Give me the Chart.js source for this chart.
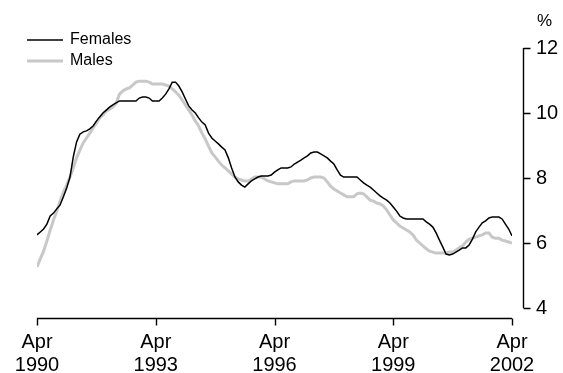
<!DOCTYPE html>
<html>
<head>
<meta charset="utf-8">
<script src="https://cdn.jsdelivr.net/npm/chart.js@4/dist/chart.umd.min.js"></script>
<style>
  html, body { margin: 0; padding: 0; background: #fff; }
  #wrap { width: 563px; height: 373px; }
</style>
</head>
<body>
<div id="wrap"><canvas id="c" width="563" height="373"></canvas></div>
<script>
// Monthly data, Apr 1990 .. Apr 2002 (145 months), unemployment rate %
const females = [
  6.25, 6.34, 6.43, 6.58, 6.83, 6.92, 7.05, 7.17, 7.42, 7.69,
  8.03, 8.65, 9.11, 9.35, 9.42, 9.45, 9.51, 9.60, 9.75, 9.88,
  10.00, 10.09, 10.18, 10.25, 10.31, 10.37, 10.37, 10.37, 10.37, 10.37,
  10.37, 10.46, 10.49, 10.49, 10.46, 10.37, 10.37, 10.37, 10.46, 10.58,
  10.74, 10.95, 10.95, 10.83, 10.65, 10.43, 10.22, 10.09, 10.00, 9.85,
  9.72, 9.63, 9.38, 9.23, 9.14, 9.05, 8.95, 8.86, 8.62, 8.31,
  8.03, 7.88, 7.78, 7.72, 7.82, 7.91, 7.97, 8.03, 8.06, 8.06,
  8.06, 8.09, 8.18, 8.25, 8.31, 8.31, 8.31, 8.34, 8.43, 8.49,
  8.55, 8.62, 8.68, 8.77, 8.80, 8.80, 8.74, 8.68, 8.62, 8.52,
  8.43, 8.25, 8.09, 8.03, 8.03, 8.03, 8.03, 8.03, 7.94, 7.85,
  7.78, 7.72, 7.63, 7.54, 7.45, 7.38, 7.32, 7.23, 7.11, 6.98,
  6.83, 6.77, 6.74, 6.74, 6.74, 6.74, 6.74, 6.74, 6.65, 6.58,
  6.49, 6.31, 6.09, 5.88, 5.66, 5.63, 5.66, 5.72, 5.78, 5.85,
  5.85, 5.94, 6.12, 6.34, 6.49, 6.62, 6.68, 6.77, 6.80, 6.80,
  6.80, 6.74, 6.58, 6.43, 6.22
];
const males = [
  5.26, 5.51, 5.75, 6.06, 6.40, 6.71, 6.98, 7.29, 7.57, 7.78,
  8.03, 8.31, 8.62, 8.86, 9.08, 9.23, 9.38, 9.54, 9.69, 9.85,
  9.94, 10.06, 10.12, 10.18, 10.31, 10.58, 10.68, 10.74, 10.77, 10.86,
  10.95, 10.98, 10.98, 10.98, 10.95, 10.89, 10.89, 10.89, 10.89, 10.86,
  10.83, 10.74, 10.65, 10.55, 10.40, 10.25, 10.09, 9.94, 9.75, 9.60,
  9.38, 9.20, 8.98, 8.77, 8.65, 8.52, 8.40, 8.31, 8.22, 8.12,
  8.03, 7.97, 7.94, 7.91, 7.91, 7.97, 8.03, 8.03, 8.03, 7.97,
  7.91, 7.88, 7.85, 7.82, 7.82, 7.82, 7.82, 7.88, 7.91, 7.91,
  7.91, 7.91, 7.94, 8.00, 8.03, 8.03, 8.03, 8.00, 7.88, 7.75,
  7.66, 7.60, 7.54, 7.48, 7.42, 7.42, 7.42, 7.51, 7.54, 7.51,
  7.42, 7.32, 7.29, 7.23, 7.20, 7.14, 7.02, 6.86, 6.71, 6.62,
  6.52, 6.46, 6.40, 6.34, 6.25, 6.09, 6.00, 5.91, 5.82, 5.75,
  5.72, 5.69, 5.69, 5.69, 5.69, 5.72, 5.72, 5.78, 5.85, 5.91,
  6.03, 6.12, 6.15, 6.18, 6.22, 6.25, 6.31, 6.31, 6.18, 6.15,
  6.15, 6.09, 6.06, 6.03, 6.00
];
const xTickLabels = [['Apr', '1990'], ['Apr', '1993'], ['Apr', '1996'], ['Apr', '1999'], ['Apr', '2002']];
const yTickValues = [4, 6, 8, 10, 12];
const seriesNames = ['Females', 'Males'];
const unitLabel = '%';

const FONT = '"Liberation Sans", Arial, sans-serif';

const axesPlugin = {
  id: 'customAxes',
  afterDraw(chart) {
    const ctx = chart.ctx;
    const xs = chart.scales.x, ys = chart.scales.y;
    ctx.save();
    ctx.strokeStyle = '#000';
    ctx.lineWidth = 1.4;
    // x axis line, offset below plot
    const xAxisY = chart.chartArea.bottom + 10.5;
    ctx.beginPath();
    ctx.moveTo(xs.getPixelForValue(xs.min), xAxisY);
    ctx.lineTo(xs.getPixelForValue(xs.max), xAxisY);
    xs.ticks.forEach(t => {
      const px = Math.round(xs.getPixelForValue(t.value)) + 0.5;
      ctx.moveTo(px, xAxisY);
      ctx.lineTo(px, xAxisY + 7);
    });
    ctx.stroke();
    // y axis line, offset right of plot
    const yAxisX = chart.chartArea.right + 11.5;
    ctx.beginPath();
    ctx.moveTo(yAxisX, ys.getPixelForValue(ys.max));
    ctx.lineTo(yAxisX, ys.getPixelForValue(ys.min));
    ys.ticks.forEach(t => {
      const py = Math.round(ys.getPixelForValue(t.value)) + 0.5;
      ctx.moveTo(yAxisX, py);
      ctx.lineTo(yAxisX + 7, py);
    });
    ctx.stroke();
    // unit label
    ctx.fillStyle = '#000';
    ctx.font = '17px ' + FONT;
    ctx.textAlign = 'center';
    ctx.textBaseline = 'middle';
    ctx.fillText(unitLabel, yAxisX + 21, ys.getPixelForValue(ys.max) - 27);
    // legend
    const lx = chart.chartArea.left - 10, ly = 40, gap = 21;
    chart.data.datasets.forEach((ds, i) => {
      const yy = ly + i * gap;
      ctx.strokeStyle = ds.borderColor;
      ctx.lineWidth = ds.borderWidth;
      ctx.beginPath();
      ctx.moveTo(lx, yy);
      ctx.lineTo(lx + 36, yy);
      ctx.stroke();
      ctx.fillStyle = '#000';
      ctx.font = '16px ' + FONT;
      ctx.textAlign = 'left';
      ctx.fillText(ds.label, lx + 43, yy);
    });
    ctx.restore();
  }
};

new Chart(document.getElementById('c'), {
  type: 'line',
  data: {
    datasets: [
      {
        label: seriesNames[0],
        data: females.map((v, i) => ({ x: i, y: v })),
        borderColor: '#000000',
        borderWidth: 1.5,
        pointRadius: 0,
        tension: 0,
        fill: false
      },
      {
        label: seriesNames[1],
        data: males.map((v, i) => ({ x: i, y: v })),
        borderColor: '#c8c8c8',
        borderWidth: 3,
        pointRadius: 0,
        tension: 0,
        fill: false
      }
    ]
  },
  options: {
    responsive: false,
    animation: false,
    devicePixelRatio: 1,
    layout: { padding: { left: 37, top: 48, right: 0, bottom: 0 } },
    plugins: {
      legend: { display: false },
      tooltip: { enabled: false }
    },
    scales: {
      x: {
        type: 'linear',
        position: 'bottom',
        min: 0,
        max: females.length - 1,
        grid: { display: false, drawTicks: false },
        border: { display: false },
        afterBuildTicks(scale) {
          scale.ticks = xTickLabels.map((_, i) => ({ value: i * 36 }));
        },
        afterFit(scale) {
          scale.height = 65;
          scale.paddingLeft = 0;
          scale.paddingRight = 0;
        },
        ticks: {
          autoSkip: false,
          maxRotation: 0,
          padding: 23,
          color: '#000',
          font: { family: FONT, size: 20, lineHeight: 1.15 },
          callback(value, index) { return xTickLabels[index]; }
        }
      },
      y: {
        type: 'linear',
        position: 'right',
        min: 4,
        max: 12,
        grid: { display: false, drawTicks: false },
        border: { display: false },
        afterBuildTicks(scale) {
          scale.ticks = yTickValues.map(v => ({ value: v }));
        },
        afterFit(scale) {
          scale.width = 51;
          scale.paddingTop = 0;
          scale.paddingBottom = 0;
        },
        ticks: {
          padding: 24,
          color: '#000',
          font: { family: FONT, size: 20 },
          callback(value) { return String(value); }
        }
      }
    }
  },
  plugins: [axesPlugin]
});
</script>
</body>
</html>
